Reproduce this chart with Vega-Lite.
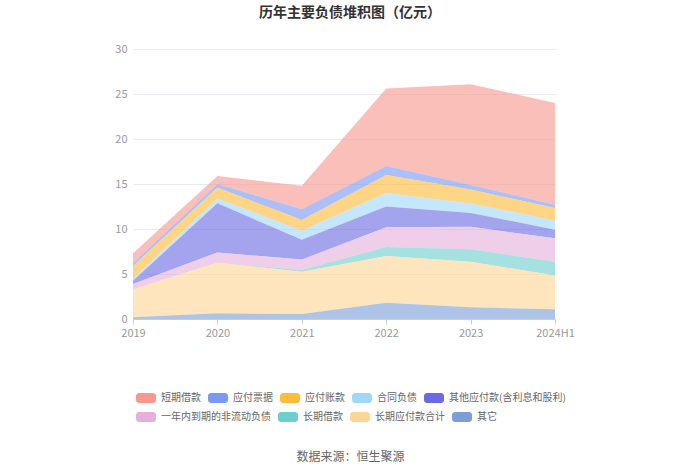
{
  "$schema": "https://vega.github.io/schema/vega-lite/v6.json",
  "width": 422,
  "height": 270,
  "autosize": {"type": "none"},
  "padding": {"left": 133, "top": 49, "right": 145, "bottom": 154},
  "background": "white",
  "title": {
    "text": "历年主要负债堆积图（亿元）",
    "fontSize": 14,
    "fontWeight": "bold",
    "color": "#333333",
    "font": "Noto Sans CJK SC",
    "anchor": "middle",
    "dx": 6,
    "offset": 23
  },
  "config": {
    "view": {"stroke": null},
    "font": "Noto Sans CJK SC"
  },
  "data": {
    "values": [
      {"year": "2019", "type": "短期借款", "value": 1.1},
      {"year": "2019", "type": "应付票据", "value": 0.3},
      {"year": "2019", "type": "应付账款", "value": 1.4},
      {"year": "2019", "type": "合同负债", "value": 0.25},
      {"year": "2019", "type": "其他应付款(含利息和股利)", "value": 0.35},
      {"year": "2019", "type": "一年内到期的非流动负债", "value": 0.6},
      {"year": "2019", "type": "长期借款", "value": 0},
      {"year": "2019", "type": "长期应付款合计", "value": 3.1},
      {"year": "2019", "type": "其它", "value": 0.2},
      {"year": "2020", "type": "短期借款", "value": 0.9},
      {"year": "2020", "type": "应付票据", "value": 0.4},
      {"year": "2020", "type": "应付账款", "value": 1.2},
      {"year": "2020", "type": "合同负债", "value": 0.55},
      {"year": "2020", "type": "其他应付款(含利息和股利)", "value": 5.45},
      {"year": "2020", "type": "一年内到期的非流动负债", "value": 1.14},
      {"year": "2020", "type": "长期借款", "value": 0},
      {"year": "2020", "type": "长期应付款合计", "value": 5.63},
      {"year": "2020", "type": "其它", "value": 0.63},
      {"year": "2021", "type": "短期借款", "value": 2.6},
      {"year": "2021", "type": "应付票据", "value": 1.2},
      {"year": "2021", "type": "应付账款", "value": 1.2},
      {"year": "2021", "type": "合同负债", "value": 1.0},
      {"year": "2021", "type": "其他应付款(含利息和股利)", "value": 2.2},
      {"year": "2021", "type": "一年内到期的非流动负债", "value": 1.15},
      {"year": "2021", "type": "长期借款", "value": 0.2},
      {"year": "2021", "type": "长期应付款合计", "value": 4.7},
      {"year": "2021", "type": "其它", "value": 0.55},
      {"year": "2022", "type": "短期借款", "value": 8.6},
      {"year": "2022", "type": "应付票据", "value": 1.0},
      {"year": "2022", "type": "应付账款", "value": 2.0},
      {"year": "2022", "type": "合同负债", "value": 1.5},
      {"year": "2022", "type": "其他应付款(含利息和股利)", "value": 2.3},
      {"year": "2022", "type": "一年内到期的非流动负债", "value": 2.2},
      {"year": "2022", "type": "长期借款", "value": 1.0},
      {"year": "2022", "type": "长期应付款合计", "value": 5.2},
      {"year": "2022", "type": "其它", "value": 1.8},
      {"year": "2023", "type": "短期借款", "value": 11.2},
      {"year": "2023", "type": "应付票据", "value": 0.5},
      {"year": "2023", "type": "应付账款", "value": 1.55},
      {"year": "2023", "type": "合同负债", "value": 1.05},
      {"year": "2023", "type": "其他应付款(含利息和股利)", "value": 1.55},
      {"year": "2023", "type": "一年内到期的非流动负债", "value": 2.5},
      {"year": "2023", "type": "长期借款", "value": 1.37},
      {"year": "2023", "type": "长期应付款合计", "value": 5.07},
      {"year": "2023", "type": "其它", "value": 1.3},
      {"year": "2024H1", "type": "短期借款", "value": 11.3},
      {"year": "2024H1", "type": "应付票据", "value": 0.37},
      {"year": "2024H1", "type": "应付账款", "value": 1.4},
      {"year": "2024H1", "type": "合同负债", "value": 1.0},
      {"year": "2024H1", "type": "其他应付款(含利息和股利)", "value": 0.95},
      {"year": "2024H1", "type": "一年内到期的非流动负债", "value": 2.6},
      {"year": "2024H1", "type": "长期借款", "value": 1.55},
      {"year": "2024H1", "type": "长期应付款合计", "value": 3.75},
      {"year": "2024H1", "type": "其它", "value": 1.07}
    ]
  },
  "transform": [
    {"calculate": "indexof(['其它','长期应付款合计','长期借款','一年内到期的非流动负债','其他应付款(含利息和股利)','合同负债','应付账款','应付票据','短期借款'], datum.type)", "as": "stackOrder"},
    {"stack": "value", "groupby": ["year"], "sort": [{"field": "stackOrder", "order": "ascending"}], "as": ["y0", "y1"]}
  ],
  "encoding": {
    "x": {
      "field": "year",
      "type": "ordinal",
      "scale": {"type": "point", "padding": 0},
      "axis": {
        "title": "数据来源：恒生聚源",
        "titleFontSize": 12,
        "titleFontWeight": "normal",
        "titleColor": "#666666",
        "titleX": 217,
        "titleY": 137,
        "titleBaseline": "middle",
        "labelAngle": 0,
        "labelColor": "#999999",
        "labelFontSize": 11,
        "labelPadding": 3,
        "domainColor": "#cccccc",
        "tickColor": "#cccccc",
        "tickSize": 5,
        "grid": false
      }
    },
    "y": {
      "field": "y1",
      "type": "quantitative",
      "scale": {"domain": [0, 30]},
      "axis": {
        "title": null,
        "values": [0, 5, 10, 15, 20, 25, 30],
        "labelColor": "#999999",
        "labelFontSize": 11,
        "labelPadding": 6,
        "domain": false,
        "ticks": false,
        "gridColor": "#e8ebf0"
      }
    },
    "y2": {"field": "y0"}
  },
  "layer": [
    {
      "transform": [{"filter": "datum.stackOrder >= 4"}],
      "mark": {"type": "area", "opacity": 0.62, "interpolate": "linear"},
      "encoding": {
        "color": {
          "field": "type",
          "type": "nominal",
          "scale": {
            "domain": ["短期借款", "应付票据", "应付账款", "合同负债", "其他应付款(含利息和股利)"],
            "range": ["#f8978f", "#7b98f5", "#fdbb3a", "#a0d9f8", "#6a6be3"]
          },
          "legend": {
            "title": null,
            "orient": "none",
            "legendX": 3,
            "legendY": 339,
            "direction": "horizontal",
            "symbolType": "M-0.7,-0.5H0.7A0.3,0.3 0 0 1 1,-0.2V0.2A0.3,0.3 0 0 1 0.7,0.5H-0.7A0.3,0.3 0 0 1 -1,0.2V-0.2A0.3,0.3 0 0 1 -0.7,-0.5Z",
            "symbolSize": 400,
            "symbolOpacity": 1,
            "symbolStrokeWidth": 0,
            "labelFontSize": 10,
            "labelColor": "#666666",
            "labelOffset": 5,
            "columnPadding": 7,
            "labelLimit": 300
          }
        }
      }
    },
    {
      "transform": [{"filter": "datum.stackOrder < 4"}],
      "mark": {"type": "area", "opacity": 0.62, "interpolate": "linear"},
      "encoding": {
        "fill": {
          "field": "type",
          "type": "nominal",
          "scale": {
            "domain": ["一年内到期的非流动负债", "长期借款", "长期应付款合计", "其它"],
            "range": ["#e4b0da", "#6ccfcd", "#fdd595", "#7d9fd8"]
          },
          "legend": {
            "title": null,
            "orient": "none",
            "legendX": 3,
            "legendY": 358,
            "direction": "horizontal",
            "symbolType": "M-0.7,-0.5H0.7A0.3,0.3 0 0 1 1,-0.2V0.2A0.3,0.3 0 0 1 0.7,0.5H-0.7A0.3,0.3 0 0 1 -1,0.2V-0.2A0.3,0.3 0 0 1 -0.7,-0.5Z",
            "symbolSize": 400,
            "symbolOpacity": 1,
            "symbolStrokeWidth": 0,
            "labelFontSize": 10,
            "labelColor": "#666666",
            "labelOffset": 5,
            "columnPadding": 7,
            "labelLimit": 300
          }
        }
      }
    }
  ]
}
